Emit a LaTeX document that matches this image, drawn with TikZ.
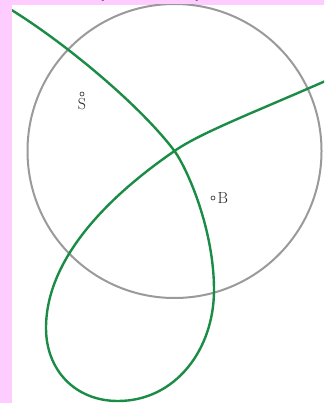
\documentclass[tikz,border=0pt]{standalone}
\usepackage{tikz}
\usetikzlibrary{positioning, calc}
\usepackage{xcolor}
\definecolor{framepink}{HTML}{FFCCFF}
\definecolor{ringgrey}{HTML}{9A9A9A}
\definecolor{loopgreen}{HTML}{1A8C45}
\definecolor{labeldark}{HTML}{222222}

\begin{document}
\begin{tikzpicture}[
  x=1pt, y=-1pt,
  ring/.style={draw=ringgrey, line width=2pt},
  loopline/.style={draw=loopgreen, line width=2.4pt},
  ptdot/.style={circle, draw=labeldark, line width=0.6pt, inner sep=0pt, minimum size=4pt},
  ptlabel/.style={font=\fontsize{16}{18}\selectfont, text=labeldark, inner sep=0pt}
]
  \useasboundingbox (0,0) rectangle (324,403);
  % frame
  \fill[framepink] (0,0) rectangle (324,403);
  \node[font=\fontsize{30}{32}\selectfont\bfseries\sffamily, anchor=base]
    (title) at (150,-6) {(\hspace*{88pt})};
  \fill[white] (12,5) rectangle (324,403);

  \begin{scope}
    \clip (12,5) rectangle (324,403);
    % circle
    \coordinate (O) at (174.5,151);
    \draw[ring] (O) circle[radius=147];

    % loop curve, crossing itself at the centre
    \coordinate (start) at (0,3);
    \coordinate (east) at (214,290);
    \coordinate (south) at (118,401);
    \coordinate (west) at (46,328);
    \coordinate (finish) at (330,79);
    \draw[loopline] (start)
      .. controls (60,38) and (140,105) .. (O)
      .. controls (188,170) and (214,230) .. (east)
      .. controls (214,350) and (175,401) .. (south)
      .. controls (75,401) and (46,370) .. (west)
      .. controls (46,250) and (125,185) .. (O)
      .. controls (200,133) and (255,112) .. (finish);
  \end{scope}

  % points
  \node[ptdot] (dotS) at (82,94) {};
  \node[ptlabel, below=2pt of dotS] (S) {S};
  \node[ptdot] (dotB) at (213,198) {};
  \node[ptlabel, right=2pt of dotB] (B) {B};
\end{tikzpicture}
\end{document}
